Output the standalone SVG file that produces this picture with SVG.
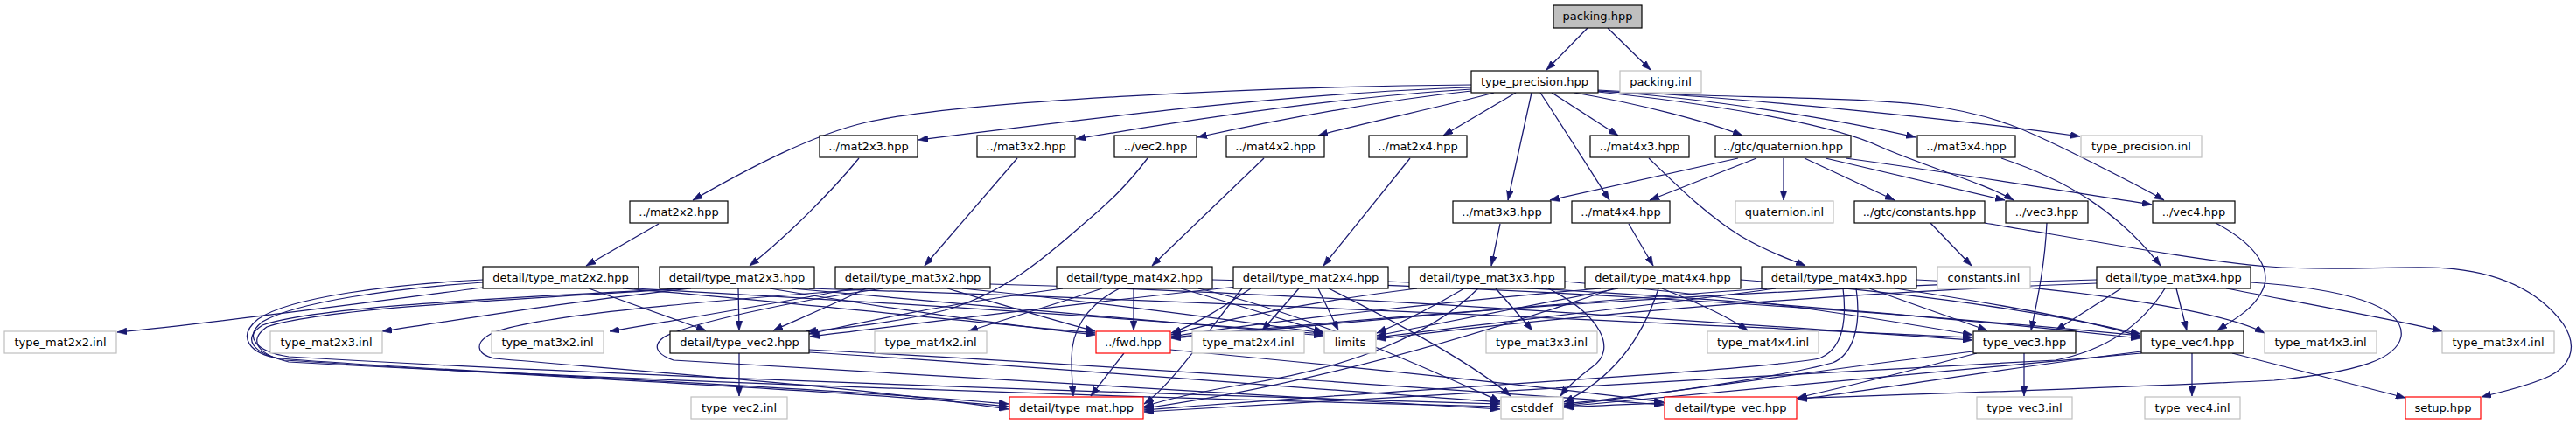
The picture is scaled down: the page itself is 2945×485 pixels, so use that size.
<svg xmlns="http://www.w3.org/2000/svg" width="2945" height="485" viewBox="0 0 2945 485">
<style>
rect{fill:#ffffff;stroke:#000000;stroke-width:1.2}
.root rect{fill:#bfbfbf}
.gray rect{stroke:#bfbfbf}
.red rect{stroke:#ff0000}
text{font-family:"DejaVu Sans","Noto Sans",sans-serif;font-size:13px;text-anchor:middle;fill:#000000}
#edges path{fill:none;stroke:#191970;stroke-width:1.25;marker-end:url(#arr)}
</style>
<defs>
<marker id="arr" markerUnits="userSpaceOnUse" markerWidth="11" markerHeight="8" viewBox="0 0 11 8" refX="11" refY="4" orient="auto"><path d="M0,0 L11,4 L0,8 z" fill="#191970" stroke="#191970" stroke-width="0.5"/></marker>
</defs>
<rect x="0" y="0" width="2945" height="485" style="fill:#ffffff;stroke:none"/>
<g id="edges">
<path d="M1815,32 L1768,80"/>
<path d="M1838,32 L1887,80"/>
<path d="M1682,97 C1450,99 1100,115 990,140 C930,154 860,190 792,229"/>
<path d="M1682,100 C1480,106 1250,135 1050,160"/>
<path d="M1682,102 C1550,110 1400,130 1230,159"/>
<path d="M1682,104 C1580,115 1470,135 1369,157"/>
<path d="M1708,106 C1650,122 1560,140 1507,155"/>
<path d="M1733,106 L1650,155"/>
<path d="M1751,106 L1724,229"/>
<path d="M1761,106 C1790,150 1815,190 1840,229"/>
<path d="M1774,106 L1850,155"/>
<path d="M1800,106 C1870,118 1950,138 1992,155"/>
<path d="M1827,104 C1950,112 2100,136 2190,157"/>
<path d="M1827,103 C2000,112 2250,138 2378,156"/>
<path d="M1827,105 C1950,118 2090,140 2150,168 C2200,190 2270,210 2302,229"/>
<path d="M1827,104 C1950,112 2110,110 2200,120 C2280,130 2320,150 2380,180 C2420,200 2450,215 2474,229"/>
<path d="M1987,181 L1772,229"/>
<path d="M2008,181 L1886,229"/>
<path d="M2039,181 L2039,229"/>
<path d="M2063,181 L2166,229"/>
<path d="M2087,181 L2292,229"/>
<path d="M2110,181 C2250,200 2380,222 2460,234"/>
<path d="M2207,255 L2254,304"/>
<path d="M2269,255 C2350,268 2520,300 2595,305 C2660,310 2720,305 2780,306 C2850,308 2900,330 2930,370 C2950,400 2935,420 2915,430 C2890,442 2860,448 2837,454"/>
<path d="M2340,255 C2338,300 2330,340 2322,378"/>
<path d="M2533,255 C2580,280 2600,310 2585,335 C2575,355 2550,368 2535,378"/>
<path d="M1312,181 C1290,210 1270,230 1240,255 C1200,290 1150,335 1080,355 C1020,370 960,376 922,379"/>
<path d="M753,256 L670,304"/>
<path d="M982,181 C950,220 900,270 857,304"/>
<path d="M1163,181 L1057,304"/>
<path d="M1445,181 L1317,304"/>
<path d="M1612,181 L1513,304"/>
<path d="M1715,256 L1705,304"/>
<path d="M1862,256 L1890,304"/>
<path d="M1885,181 C1920,215 1950,245 1990,270 C2020,288 2045,296 2064,304"/>
<path d="M2288,181 C2360,205 2420,240 2470,304"/>
<path d="M552,329 C450,342 260,368 134,380"/>
<path d="M673,330 L807,378"/>
<path d="M712,330 C900,345 1100,368 1252,381"/>
<path d="M725,330 C1000,345 1300,365 1513,382"/>
<path d="M552,320 C450,325 330,340 295,365 C270,385 285,405 320,410 C500,425 900,440 1153,462"/>
<path d="M552,323 C450,330 340,345 300,368 C278,385 292,402 330,408 C700,430 1300,450 1715,462"/>
<path d="M790,330 C650,345 550,362 437,379"/>
<path d="M844,330 L845,378"/>
<path d="M925,330 C1400,345 1900,370 2255,386"/>
<path d="M880,330 C1000,350 1150,372 1252,383"/>
<path d="M905,330 C1100,348 1350,370 1513,384"/>
<path d="M780,330 C600,340 360,350 300,372 C275,388 290,404 325,412 C600,430 950,445 1153,465"/>
<path d="M785,330 C600,342 370,352 305,374 C282,390 296,406 330,414 C700,435 1300,455 1715,465"/>
<path d="M975,330 C900,345 780,365 697,379"/>
<path d="M990,330 C960,345 920,362 884,378"/>
<path d="M1132,325 C1500,335 1900,365 2255,389"/>
<path d="M1083,330 C1150,350 1210,368 1252,379"/>
<path d="M1100,330 C1250,345 1400,365 1513,381"/>
<path d="M1000,330 C800,345 620,360 565,380 C540,392 545,405 565,410 C800,430 1000,445 1153,468"/>
<path d="M1010,330 C900,345 790,370 760,385 C745,395 750,405 770,412 C1100,430 1400,450 1715,468"/>
<path d="M1260,330 C1200,350 1150,365 1107,379"/>
<path d="M1215,330 C1100,345 1000,365 925,382"/>
<path d="M1386,320 C1800,330 2200,360 2447,384"/>
<path d="M1296,330 L1296,378"/>
<path d="M1350,330 C1420,350 1480,370 1513,380"/>
<path d="M1280,330 C1240,350 1225,380 1225,410 C1225,430 1226,440 1227,453"/>
<path d="M1370,330 C1500,360 1650,430 1715,459"/>
<path d="M1485,330 L1443,378"/>
<path d="M1415,328 C1250,345 1050,370 926,385"/>
<path d="M1587,322 C1900,335 2200,360 2447,387"/>
<path d="M1430,330 C1400,350 1370,370 1339,381"/>
<path d="M1507,330 L1530,378"/>
<path d="M1420,330 C1380,380 1340,440 1308,462"/>
<path d="M1519,330 C1600,370 1690,420 1727,453"/>
<path d="M1710,330 L1752,378"/>
<path d="M1789,322 C2000,340 2150,365 2255,383"/>
<path d="M1620,330 C1500,345 1400,365 1339,383"/>
<path d="M1674,330 C1640,350 1600,370 1574,381"/>
<path d="M1690,330 C1640,380 1550,420 1420,440 C1360,450 1330,458 1308,465"/>
<path d="M1770,330 C1830,360 1850,400 1820,420 C1800,435 1790,445 1784,453"/>
<path d="M1900,330 C1950,350 1980,365 1998,378"/>
<path d="M1990,320 C2200,335 2350,360 2447,382"/>
<path d="M1830,330 C1650,345 1450,368 1339,385"/>
<path d="M1850,330 C1750,350 1650,370 1574,384"/>
<path d="M1845,330 C1700,380 1500,440 1308,467"/>
<path d="M1896,330 C1880,380 1850,430 1788,460"/>
<path d="M2191,320 C2400,330 2550,360 2589,381"/>
<path d="M2137,330 L2272,378"/>
<path d="M2167,330 C2300,350 2400,370 2447,385"/>
<path d="M2020,330 C1800,345 1550,368 1339,387"/>
<path d="M2030,330 C1900,348 1700,370 1574,386"/>
<path d="M2107,330 C2112,370 2105,400 2080,410 C2000,425 1600,445 1308,469"/>
<path d="M2122,330 C2128,370 2120,405 2095,415 C2040,430 1900,450 1788,464"/>
<path d="M2545,330 C2650,350 2750,368 2792,379"/>
<path d="M2425,330 L2350,378"/>
<path d="M2488,330 L2500,378"/>
<path d="M2397,320 C2000,330 1600,360 1339,386"/>
<path d="M2397,324 C2100,335 1800,360 1574,388"/>
<path d="M2475,330 C2450,370 2410,400 2350,412 C2000,430 1600,455 1308,471"/>
<path d="M2573,323 C2680,330 2750,350 2745,385 C2740,410 2700,425 2600,435 C2300,450 2000,455 1788,466"/>
<path d="M1285,404 L1247,453"/>
<path d="M1338,400 C1550,420 1750,440 1902,460"/>
<path d="M845,404 L845,453"/>
<path d="M925,400 C1300,420 1650,445 1902,463"/>
<path d="M925,403 C1200,420 1500,445 1715,460"/>
<path d="M2314,404 L2314,453"/>
<path d="M2260,404 C2200,420 2120,440 2055,455"/>
<path d="M2256,402 C2100,420 1950,445 1788,462"/>
<path d="M2506,404 L2506,453"/>
<path d="M2448,402 C2300,420 2150,445 2055,457"/>
<path d="M2448,404 C2200,425 1950,450 1788,465"/>
<path d="M2552,404 L2750,455"/>
</g>
<g id="packing_hpp" class="root"><rect x="1776" y="6" width="101" height="26"/><text x="1826.5" y="23">packing.hpp</text></g>
<g id="type_precision_hpp"><rect x="1682" y="81" width="145" height="25"/><text x="1754.5" y="97.5">type_precision.hpp</text></g>
<g id="packing_inl" class="gray"><rect x="1852" y="81" width="93" height="25"/><text x="1898.5" y="97.5">packing.inl</text></g>
<g id="mat2x3_hpp"><rect x="937" y="155" width="112" height="25"/><text x="993" y="171.5">../mat2x3.hpp</text></g>
<g id="mat3x2_hpp"><rect x="1117" y="155" width="112" height="25"/><text x="1173" y="171.5">../mat3x2.hpp</text></g>
<g id="vec2_hpp"><rect x="1274" y="155" width="94" height="25"/><text x="1321" y="171.5">../vec2.hpp</text></g>
<g id="mat4x2_hpp"><rect x="1402" y="155" width="112" height="25"/><text x="1458" y="171.5">../mat4x2.hpp</text></g>
<g id="mat2x4_hpp"><rect x="1565" y="155" width="112" height="25"/><text x="1621" y="171.5">../mat2x4.hpp</text></g>
<g id="mat4x3_hpp"><rect x="1818" y="155" width="113" height="25"/><text x="1874.5" y="171.5">../mat4x3.hpp</text></g>
<g id="quaternion_hpp"><rect x="1961" y="155" width="155" height="25"/><text x="2038.5" y="171.5">../gtc/quaternion.hpp</text></g>
<g id="mat3x4_hpp"><rect x="2192" y="155" width="112" height="25"/><text x="2248" y="171.5">../mat3x4.hpp</text></g>
<g id="type_precision_inl" class="gray"><rect x="2379" y="155" width="138" height="25"/><text x="2448" y="171.5">type_precision.inl</text></g>
<g id="mat2x2_hpp"><rect x="720" y="230" width="112" height="25"/><text x="776" y="246.5">../mat2x2.hpp</text></g>
<g id="mat3x3_hpp"><rect x="1661" y="230" width="112" height="25"/><text x="1717" y="246.5">../mat3x3.hpp</text></g>
<g id="mat4x4_hpp"><rect x="1797" y="230" width="112" height="25"/><text x="1853" y="246.5">../mat4x4.hpp</text></g>
<g id="quaternion_inl" class="gray"><rect x="1984" y="230" width="112" height="25"/><text x="2040" y="246.5">quaternion.inl</text></g>
<g id="constants_hpp"><rect x="2120" y="230" width="149" height="25"/><text x="2194.5" y="246.5">../gtc/constants.hpp</text></g>
<g id="vec3_hpp"><rect x="2293" y="230" width="94" height="25"/><text x="2340" y="246.5">../vec3.hpp</text></g>
<g id="vec4_hpp"><rect x="2461" y="230" width="94" height="25"/><text x="2508" y="246.5">../vec4.hpp</text></g>
<g id="detail_type_mat2x2_hpp"><rect x="552" y="305" width="178" height="25"/><text x="641" y="321.5">detail/type_mat2x2.hpp</text></g>
<g id="detail_type_mat2x3_hpp"><rect x="754" y="305" width="177" height="25"/><text x="842.5" y="321.5">detail/type_mat2x3.hpp</text></g>
<g id="detail_type_mat3x2_hpp"><rect x="955" y="305" width="177" height="25"/><text x="1043.5" y="321.5">detail/type_mat3x2.hpp</text></g>
<g id="detail_type_mat4x2_hpp"><rect x="1208" y="305" width="178" height="25"/><text x="1297" y="321.5">detail/type_mat4x2.hpp</text></g>
<g id="detail_type_mat2x4_hpp"><rect x="1410" y="305" width="177" height="25"/><text x="1498.5" y="321.5">detail/type_mat2x4.hpp</text></g>
<g id="detail_type_mat3x3_hpp"><rect x="1611" y="305" width="178" height="25"/><text x="1700" y="321.5">detail/type_mat3x3.hpp</text></g>
<g id="detail_type_mat4x4_hpp"><rect x="1812" y="305" width="178" height="25"/><text x="1901" y="321.5">detail/type_mat4x4.hpp</text></g>
<g id="detail_type_mat4x3_hpp"><rect x="2014" y="305" width="177" height="25"/><text x="2102.5" y="321.5">detail/type_mat4x3.hpp</text></g>
<g id="constants_inl" class="gray"><rect x="2215" y="305" width="106" height="25"/><text x="2268" y="321.5">constants.inl</text></g>
<g id="detail_type_mat3x4_hpp"><rect x="2397" y="305" width="176" height="25"/><text x="2485" y="321.5">detail/type_mat3x4.hpp</text></g>
<g id="type_mat2x2_inl" class="gray"><rect x="5" y="379" width="128" height="25"/><text x="69" y="395.5">type_mat2x2.inl</text></g>
<g id="type_mat2x3_inl" class="gray"><rect x="309" y="379" width="128" height="25"/><text x="373" y="395.5">type_mat2x3.inl</text></g>
<g id="type_mat3x2_inl" class="gray"><rect x="562" y="379" width="128" height="25"/><text x="626" y="395.5">type_mat3x2.inl</text></g>
<g id="detail_type_vec2_hpp"><rect x="766" y="379" width="159" height="25"/><text x="845.5" y="395.5">detail/type_vec2.hpp</text></g>
<g id="type_mat4x2_inl" class="gray"><rect x="1000" y="379" width="128" height="25"/><text x="1064" y="395.5">type_mat4x2.inl</text></g>
<g id="fwd_hpp" class="red"><rect x="1253" y="379" width="85" height="25"/><text x="1295.5" y="395.5">../fwd.hpp</text></g>
<g id="type_mat2x4_inl" class="gray"><rect x="1363" y="379" width="128" height="25"/><text x="1427" y="395.5">type_mat2x4.inl</text></g>
<g id="limits" class="gray"><rect x="1514" y="379" width="59" height="25"/><text x="1543.5" y="395.5">limits</text></g>
<g id="type_mat3x3_inl" class="gray"><rect x="1699" y="379" width="127" height="25"/><text x="1762.5" y="395.5">type_mat3x3.inl</text></g>
<g id="type_mat4x4_inl" class="gray"><rect x="1952" y="379" width="127" height="25"/><text x="2015.5" y="395.5">type_mat4x4.inl</text></g>
<g id="type_vec3_hpp"><rect x="2256" y="379" width="117" height="25"/><text x="2314.5" y="395.5">type_vec3.hpp</text></g>
<g id="type_vec4_hpp"><rect x="2448" y="379" width="117" height="25"/><text x="2506.5" y="395.5">type_vec4.hpp</text></g>
<g id="type_mat4x3_inl" class="gray"><rect x="2589" y="379" width="128" height="25"/><text x="2653" y="395.5">type_mat4x3.inl</text></g>
<g id="type_mat3x4_inl" class="gray"><rect x="2792" y="379" width="128" height="25"/><text x="2856" y="395.5">type_mat3x4.inl</text></g>
<g id="type_vec2_inl" class="gray"><rect x="790" y="454" width="110" height="25"/><text x="845" y="470.5">type_vec2.inl</text></g>
<g id="detail_type_mat_hpp" class="red"><rect x="1154" y="454" width="153" height="25"/><text x="1230.5" y="470.5">detail/type_mat.hpp</text></g>
<g id="cstddef" class="gray"><rect x="1716" y="454" width="71" height="25"/><text x="1751.5" y="470.5">cstddef</text></g>
<g id="detail_type_vec_hpp" class="red"><rect x="1903" y="454" width="151" height="25"/><text x="1978.5" y="470.5">detail/type_vec.hpp</text></g>
<g id="type_vec3_inl" class="gray"><rect x="2260" y="454" width="109" height="25"/><text x="2314.5" y="470.5">type_vec3.inl</text></g>
<g id="type_vec4_inl" class="gray"><rect x="2452" y="454" width="109" height="25"/><text x="2506.5" y="470.5">type_vec4.inl</text></g>
<g id="setup_hpp" class="red"><rect x="2750" y="454" width="86" height="25"/><text x="2793" y="470.5">setup.hpp</text></g>
</svg>
